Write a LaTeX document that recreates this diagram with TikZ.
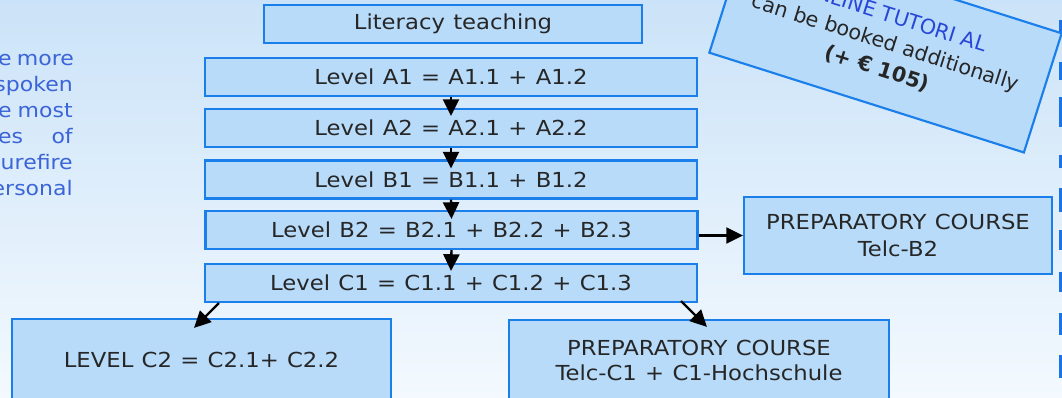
\documentclass[tikz,border=0pt]{standalone}
\usepackage{fontspec}
\setmainfont{DejaVu Sans}[FakeStretch=1.1, WordSpace=1.15]
\newfontfamily\vfont{DejaVu Sans}
\usetikzlibrary{arrows.meta,calc}
\definecolor{bgtop}{RGB}{203,227,248}
\definecolor{bgbot}{RGB}{243,249,254}
\definecolor{boxfill}{RGB}{184,219,250}
\definecolor{boxline}{RGB}{26,126,235}
\definecolor{txt}{RGB}{38,38,38}
\definecolor{ptxt}{RGB}{58,100,215}
\definecolor{tutblue}{RGB}{40,70,215}
\definecolor{markblue}{RGB}{26,115,232}
\begin{document}
\begin{tikzpicture}[x=0.75pt,y=-0.75pt,
  lvl/.style={draw=boxline, line width=1.6pt, fill=boxfill, inner sep=0pt, text=txt,
    font=\fontsize{15.5}{20}\selectfont, align=center},
  lvlrow/.style={lvl, minimum width=369pt, minimum height=28.5pt},
  arr/.style={-{Triangle[length=12.5pt,width=12pt]}, line width=1.8pt, black},
  para/.style={anchor=base east, text=ptxt, font=\fontsize{15}{20}\selectfont, inner sep=0pt},
  mk/.style={fill=markblue}]
\useasboundingbox (0,0) rectangle (1062,397);
\clip (0,0) rectangle (1062,397);
\shade[top color=bgtop, bottom color=bgbot] (0,0) rectangle (1062,397);

% left paragraph (cut off)
\node[para] (p1) at (73,65) {\makebox[56pt][s]{e more}};
\node[para] (p2) at (73,91) {spoken};
\node[para] (p3) at (73,117) {\makebox[56pt][s]{e most}};
\node[para] (p4) at (73,143) {\makebox[56pt][s]{es of}};
\node[para] (p5) at (73,169) {surefire};
\node[para] (p6) at (73,195) {ersonal};

% right edge marks
\foreach \a/\b in {20/32,62/80,97/127,155/168,188/212,230/250,272/292,313/335,355/378}
  \fill[mk] (1058.5,\a) rectangle (1063,\b);

% boxes
\node[lvl, minimum width=283.5pt, minimum height=28.5pt] (lit) at (453,24) {Literacy teaching};
\node[lvlrow] (a1) at (451,77) {Level A1 = A1.1 + A1.2};
\node[lvlrow] (a2) at (451,128) {Level A2 = A2.1 + A2.2};
\node[lvlrow] (b1) at (451,179.5) {Level B1 = B1.1 + B1.2};
\node[lvlrow] (b2) at (451.5,230) {Level B2 = B2.1 + B2.2 + B2.3};
\node[lvlrow] (c1) at (451,283) {Level C1 = C1.1 + C1.2 + C1.3};
\node[lvl, minimum width=231pt, minimum height=57.75pt] (pb2) at (898,235.5)
  {PREPARATORY COURSE\\Telc-B2};
\node[lvl, minimum width=284.25pt, minimum height=61.5pt] (c2) at (201.5,360)
  {LEVEL C2 = C2.1+ C2.2};
\node[lvl, minimum width=285pt, minimum height=60.75pt,
  font=\fontsize{15.5}{19}\selectfont] (pc1) at (699,360.5)
  {PREPARATORY COURSE\\Telc-C1 + C1-Hochschule};

% tilted tutorial box
\node[draw=boxline, line width=1.6pt, fill=boxfill, inner sep=0pt,
  minimum width=247.5pt, minimum height=93.75pt, rotate=-17.6, align=center,
  font=\vfont\fontsize{15.5}{20.5}\selectfont, text=txt] (tut) at (885.5,43)
  {\textcolor{tutblue}{ONLINE TUTORI AL}\\can be booked additionally\\\textbf{(+ € 105)}};

% arrows
\draw[arr] (a1.south) -- ($(a2.north)+(0,8)$);
\draw[arr] (a2.south) -- ($(b1.north)+(0,9)$);
\draw[arr] (b1.south) -- ($(b2.north)+(0,9)$);
\draw[arr] (b2.south) -- ($(c1.north)+(0,8)$);
\draw[arr] (b2.east |- pb2.west) -- (pb2.west);
\draw[arr] ($(c1.south west)+(15,0)$) -- ($(c2.north)+(-7.5,10)$);
\draw[arr] ($(c1.south east)+(-17,-2)$) -- ($(pc1.north)+(8,8)$);
\end{tikzpicture}
\end{document}
